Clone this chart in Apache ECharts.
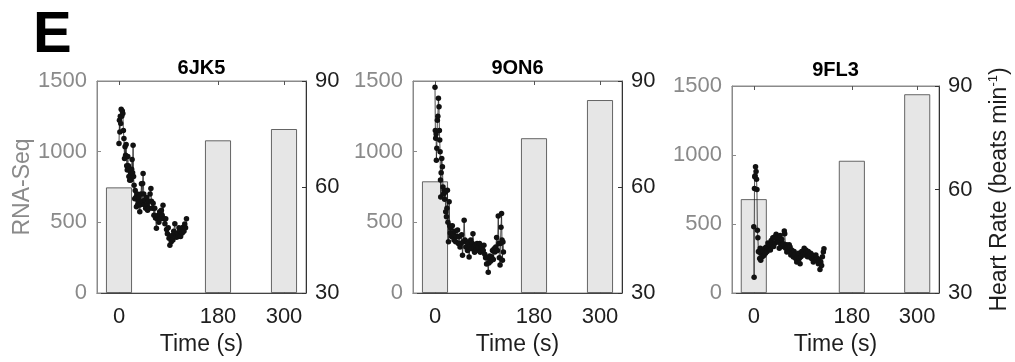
<!DOCTYPE html>
<html>
<head>
<meta charset="utf-8">
<script src="https://cdn.jsdelivr.net/npm/echarts@6/dist/echarts.min.js"></script>
<style>
html,body{margin:0;padding:0;background:#fff;}
#chart{width:1015px;height:362px;}
</style>
</head>
<body>
<div id="chart"></div>
<script>
// ---------------- DATA ----------------
const panelNames = ['6JK5', '9ON6', '9FL3'];
const barTimes = [0, 180, 300];
const xTickValues = [0, 180, 300];
const rnaTicks = [0, 500, 1000, 1500];
const hrTicks = [30, 60, 90];

const rnaSeq6JK5 = [747, 1080, 1160];
const rnaSeq9ON6 = [790, 1095, 1365];
const rnaSeq9FL3 = [680, 958, 1440];

const hrTime6JK5 = [0,0.8,1.6,2.4,3.2,4,5,6,7,8,9,10,11,12,13,14,15,16,17,18,19,19.5,21,22,23,23.8,24.7,25.6,26.5,27.4,28.6,29.5,30.5,31.7,33,34,35,36,37,37.8,39,40,40.8,42,43,43.8,45,46,47,48.5,50,51,52,53.5,55,56.5,58,59,60.5,62,63.5,65,66.4,68,69.5,71,72.5,74,75.5,77,78.5,80,81.5,83.5,85,86.5,88,89.5,91,92.5,94,95,96.5,98,99.5,101.5,103,104.5,106,107.5,109,110.5,112,113.5,115,116.5,118,119.5,121,122.7];
const hr6JK5 = [72.3,78.9,75.6,80,78,82,80,81.5,80.8,76,73.7,68.1,71.4,69,72,66,64.8,68.6,66,63,65,61.9,64,62,65,67.8,64,71.8,63,60.5,56.7,59,57,54.4,58,55,56,57.2,55,53,55,58,60.9,56,61,63.8,58,55,56.3,54,57,55,53.4,56,54,58,59.6,56,54,55.4,52,54,51.2,48.3,51,52,50,53,51,53.4,52,54.8,51,49.6,51,48,46.8,48.5,45.5,43.5,46,44.5,46.3,45,47.5,49.6,46.5,45.8,47,46,48.5,47.7,46,48,47,48.6,47.5,49.5,48.5,51];

const hrTime9ON6 = [0,0.6,1.3,2,2.5,3.3,4.3,5.2,6.2,7.3,8,8.6,9.3,10,10.4,11.2,12.3,13.5,14.5,15.5,16.5,17.5,18.5,19.5,20.8,21.7,22.6,23.5,24.5,25.7,26.7,27.7,28.7,30,31.5,33,34.5,36,37.5,39,41,42.5,44,45.5,47,48.5,50,51.5,53,54.5,56,57.5,59,60.5,62,63.5,65,66.5,68,69,70.5,72,73.5,75,76.5,78,79.5,81,82.5,84,85.5,87.7,89,90.5,92,93.8,95,96.8,98,99.5,101,103,104.5,106,107.5,109,110.5,112,113.5,115,116,117,118.3,119,120,121,121.8,122.6,123.5,124.4];
const hr9ON6 = [88.2,76,73.8,75,67.6,71,78.9,80,85.1,82.7,76,73.3,70,62,57.2,64,68.1,65.7,60,58,59.1,56.5,58.5,53,51.6,54,59.1,50,44.5,55.8,49,47,48.3,46,49,46.8,45,47.5,44.5,46,47.8,44,46,43,44,46.5,40.7,44.5,50.6,45,43,44.5,42,44,40.2,43,45,42.5,44,46.8,43,41.5,43.5,42,44,42.5,43,44,41.5,43,42.5,42,43.5,41,40,38.2,40,35.9,38.5,40.5,39,40.2,42,39.5,42.5,41.6,43,45.7,42,51.8,44,40,37.9,44,48.6,52.5,45,39.3,44.4,41.6];

const hrTime9FL3 = [0,0.6,1.2,1.8,2.4,3.2,4.2,5,5.8,6.6,7.5,8.5,9.7,10.8,11.8,12.8,14,15.5,17,18.5,20,21.5,23,24.5,26,27.5,29,30.5,32,33.5,35,36.5,38,39.5,41,42.5,44,45.3,46.8,48.4,50,51.5,53,54.5,56,56.8,58.5,60,60.6,62,63.5,65,66.6,68,69.5,71,72.7,74,75.5,77,78.8,80.5,82,83.5,85,86.5,88,89.5,91,92.5,94,95.5,97,98.5,100,101.5,103,104.5,106,107.5,109.3,111,112.5,114,115.4,117,118.5,120,121.5,123,124.5,126,127.6,128.8];
const hr9FL3 = [49.2,34.6,60.3,63.7,64,66.6,65.2,63,60,48.2,46,42,41.9,40,43,39.5,41.5,40.5,42,40.9,43,41.5,43.3,42,44.5,43,44,42.5,45.2,44,46,43.5,46.2,44.5,47,45,46,44.8,43,46.7,44,45.5,43.5,44.3,48,47.2,43,44,41.9,43.5,42,44,43.3,41,42.5,41.5,40.4,42,41,40,39,40.5,41.5,40,38.5,40.5,42,41,41.4,43,41,42.5,41.9,40.5,42,41,40.4,41.5,40,41,39,40.5,39.5,41,39.5,40,38.5,39.5,36.8,39,38,40.5,41.9,42.8];

// ---------------- LAYOUT ----------------
const grids = [
  {left: 97, top: 81, width: 209, height: 212},
  {left: 413, top: 81, width: 209, height: 212},
  {left: 732, top: 86, width: 207, height: 207}
];
const titleY = [68, 68, 70];
const rnaData = [rnaSeq6JK5, rnaSeq9ON6, rnaSeq9FL3];
const hrTimes = [hrTime6JK5, hrTime9ON6, hrTime9FL3];
const hrVals = [hr6JK5, hr9ON6, hr9FL3];

const FONT = '"Liberation Sans", Arial, Helvetica, sans-serif';
const GRAY = '#8a8a8a';
const DARK = '#1e1e1e';
const plain = v => String(v);

const option = {
  animation: false,
  backgroundColor: '#fff',
  textStyle: {fontFamily: FONT},
  grid: grids.map(g => Object.assign({show: true, borderColor: '#8a8a8a', borderWidth: 1, containLabel: false}, g)),
  xAxis: [],
  yAxis: [],
  series: [],
  graphic: []
};

panelNames.forEach((name, i) => {
  // bottom x axis
  option.xAxis.push({
    type: 'value', gridIndex: i, min: -40, max: 340, position: 'bottom',
    name: 'Time (s)', nameLocation: 'middle', nameGap: 38,
    nameTextStyle: {fontSize: 23, color: DARK, fontFamily: FONT},
    axisLine: {show: true, onZero: false, lineStyle: {color: '#444', width: 1}},
    axisTick: {show: true, inside: true, length: 4, customValues: xTickValues, lineStyle: {color: '#444'}},
    axisLabel: {show: true, customValues: xTickValues, formatter: plain, fontSize: 22, color: DARK, margin: 13, fontFamily: FONT},
    splitLine: {show: false}
  });
  // top x axis (ticks only)
  option.xAxis.push({
    type: 'value', gridIndex: i, min: -40, max: 340, position: 'top',
    axisLine: {show: true, onZero: false, lineStyle: {color: '#8a8a8a', width: 1}},
    axisTick: {show: true, inside: true, length: 4, customValues: xTickValues, lineStyle: {color: '#555'}},
    axisLabel: {show: false, customValues: xTickValues},
    splitLine: {show: false}
  });
  // left y axis: RNA-Seq
  option.yAxis.push({
    type: 'value', gridIndex: i, min: 0, max: 1500, interval: 500, position: 'left',
    name: i === 0 ? 'RNA-Seq' : '', nameLocation: 'middle', nameGap: 62, nameRotate: 90,
    nameTextStyle: {fontSize: 23, color: GRAY, fontFamily: FONT},
    axisLine: {show: true, onZero: false, lineStyle: {color: '#8a8a8a', width: 1}},
    axisTick: {show: true, inside: true, length: 4, lineStyle: {color: '#8a8a8a'}},
    axisLabel: {formatter: plain, fontSize: 22, color: GRAY, margin: 10, fontFamily: FONT},
    splitLine: {show: false}
  });
  // right y axis: heart rate
  option.yAxis.push({
    type: 'value', gridIndex: i, min: 30, max: 90, interval: 30, position: 'right',
    name: i === 2 ? '{a|Heart Rate (beats min}{s|-1}{a|)}' : '',
    nameLocation: 'middle', nameGap: 48, nameRotate: 90,
    nameTextStyle: {
      color: DARK, fontFamily: FONT, fontSize: 23,
      rich: {
        a: {fontSize: 23, color: DARK, fontFamily: FONT, lineHeight: 26},
        s: {fontSize: 13, color: DARK, fontFamily: FONT, verticalAlign: 'top', lineHeight: 26, padding: [0, 0, 8, 0]}
      }
    },
    axisLine: {show: true, onZero: false, lineStyle: {color: '#333', width: 1}},
    axisTick: {show: true, inside: true, length: 4, lineStyle: {color: '#333'}},
    axisLabel: {formatter: plain, fontSize: 22, color: DARK, margin: 9, fontFamily: FONT},
    splitLine: {show: false}
  });

  option.series.push({
    type: 'bar', xAxisIndex: 2 * i, yAxisIndex: 2 * i,
    data: barTimes.map((t, k) => [t, rnaData[i][k]]),
    barWidth: 26,
    itemStyle: {color: '#e6e6e6', borderColor: '#555', borderWidth: 0.9},
    z: 2
  });
  option.series.push({
    type: 'line', xAxisIndex: 2 * i, yAxisIndex: 2 * i + 1,
    data: hrTimes[i].map((t, k) => [t, hrVals[i][k]]),
    symbol: 'circle', symbolSize: 5.5, showSymbol: true,
    lineStyle: {color: '#222', width: 0.8},
    itemStyle: {color: '#111'},
    z: 5
  });

  option.graphic.push({
    type: 'text',
    x: grids[i].left + grids[i].width / 2, y: titleY[i],
    style: {text: name, font: 'bold 20px ' + FONT, fill: '#000', align: 'center', verticalAlign: 'middle'},
    z: 10
  });
});

option.graphic.push({
  type: 'text', x: 33, y: 36,
  style: {text: 'E', font: 'bold 58px ' + FONT, fill: '#000', align: 'left', verticalAlign: 'middle'},
  z: 10
});

const chart = echarts.init(document.getElementById('chart'), null, {renderer: 'canvas'});
chart.setOption(option);
</script>
</body>
</html>
